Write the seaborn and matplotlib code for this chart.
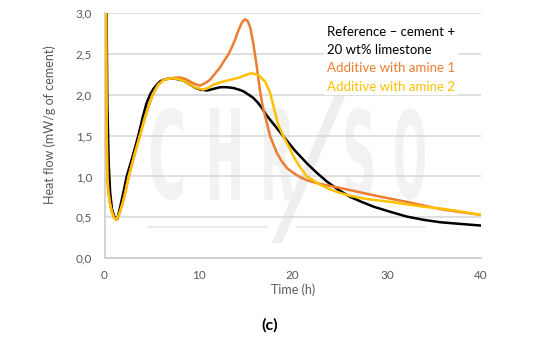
import numpy as np
import pandas as pd
import matplotlib
matplotlib.use("Agg")
import matplotlib.pyplot as plt
import seaborn as sns
from matplotlib.lines import Line2D
from matplotlib.textpath import TextPath
from matplotlib.patches import PathPatch, Polygon
from matplotlib.font_manager import FontProperties
from matplotlib.transforms import Affine2D, IdentityTransform

# ---------------- data ----------------
series_names = ["Reference – cement +\n20 wt% limestone",
                "Additive with amine 1",
                "Additive with amine 2"]
series_colors = ["#000000", "#ED7D31", "#FFC000"]

ref_time = [0.2, 0.3, 0.45, 0.6, 0.8, 1.0, 1.2, 1.36, 1.65, 2.0, 2.36, 3.0, 3.6, 4.05, 4.48,
            4.84, 5.2, 5.55, 5.9, 6.25, 6.6, 6.96, 7.7, 8.4, 9.1, 9.7, 10.2, 10.9, 11.6,
            12.3, 13.0, 13.7, 14.3, 14.75, 15.3, 15.8, 16.3, 16.7, 17.2, 18.1, 19.0, 20.2,
            21.5, 22.5, 23.6, 24.8, 26.1, 27.3, 28.6, 30.3, 32.1, 33.9, 35.7, 37.8, 40.0]
ref_flow = [3.3, 1.9, 1.15, 0.8, 0.6, 0.52, 0.49, 0.48, 0.62, 0.80, 1.0, 1.25, 1.5, 1.72, 1.90,
            2.0, 2.07, 2.12, 2.16, 2.18, 2.19, 2.2, 2.19, 2.17, 2.12, 2.08, 2.06, 2.05, 2.07,
            2.09, 2.09, 2.08, 2.06, 2.04, 2.0, 1.96, 1.90, 1.84, 1.75, 1.62, 1.49, 1.32,
            1.16, 1.05, 0.94, 0.84, 0.75, 0.69, 0.63, 0.57, 0.51, 0.47, 0.44, 0.42, 0.40]

am1_time = [0.15, 0.2, 0.25, 0.3, 0.4, 0.58, 0.8, 1.0, 1.22, 1.5, 1.9, 2.2, 2.57, 3.2, 3.77,
            4.3, 4.7, 5.12, 5.7, 6.3, 7.1, 8.0, 8.6, 9.09, 9.6, 10.15, 10.7, 11.2, 11.7,
            12.27, 12.7, 13.16, 13.5, 13.87, 14.15, 14.4, 14.65, 14.93, 15.2, 15.46, 15.8,
            16.17, 16.5, 16.8, 17.1, 17.6, 18.3, 18.8, 19.4, 20.1, 20.8, 21.6, 22.5, 23.7,
            25.0, 26.8, 28.6, 30.3, 32.1, 33.9, 35.7, 37.8, 40.0]
am1_flow = [3.3, 2.2, 1.4, 1.0, 0.82, 0.67, 0.56, 0.5, 0.47, 0.52, 0.66, 0.8, 1.0, 1.27, 1.5,
            1.72, 1.86, 2.0, 2.12, 2.18, 2.2, 2.21, 2.19, 2.16, 2.13, 2.11, 2.14, 2.18, 2.25,
            2.33, 2.41, 2.49, 2.57, 2.67, 2.76, 2.83, 2.89, 2.92, 2.9, 2.83, 2.63,
            2.35, 2.06, 1.86, 1.72, 1.49, 1.29, 1.19, 1.10, 1.04, 0.99, 0.95, 0.92, 0.89,
            0.86, 0.815, 0.77, 0.73, 0.69, 0.645, 0.60, 0.565, 0.53]

am2_time = [0.15, 0.2, 0.25, 0.3, 0.4, 0.58, 0.8, 1.0, 1.22, 1.5, 1.9, 2.2, 2.57, 3.2, 3.77,
            4.3, 4.7, 5.12, 5.7, 6.3, 7.1, 7.8, 8.4, 9.09, 9.8, 10.5, 11.0, 11.56, 12.3,
            13.0, 13.7, 14.4, 15.0, 15.6, 16.35, 17.06, 17.6, 18.1, 18.5, 19.0, 19.6, 20.1,
            20.8, 21.5, 22.2, 22.9, 24.0, 25.0, 26.2, 27.5, 28.9, 30.3, 32.1, 33.9, 35.6,
            37.4, 40.0]
am2_flow = [3.3, 2.2, 1.4, 1.0, 0.82, 0.67, 0.56, 0.5, 0.47, 0.52, 0.66, 0.8, 1.0, 1.27, 1.5,
            1.72, 1.86, 2.0, 2.12, 2.18, 2.2, 2.19, 2.17, 2.12, 2.08, 2.06, 2.08, 2.12, 2.15,
            2.17, 2.19, 2.21, 2.24, 2.26, 2.24, 2.16, 2.02, 1.79, 1.62, 1.49, 1.36, 1.24,
            1.11, 1.0, 0.95, 0.90, 0.84, 0.80, 0.76, 0.73, 0.71, 0.69, 0.66, 0.63, 0.61,
            0.58, 0.53]

x_ticks = [0, 10, 20, 30, 40]
y_ticks = [0.0, 0.5, 1.0, 1.5, 2.0, 2.5, 3.0]
y_tick_labels = ["0,0", "0,5", "1,0", "1,5", "2,0", "2,5", "3,0"]
x_label = "Time (h)"
y_label = "Heat flow (mW/g of cement)"
panel_label = "(c)"
watermark_letters = ["C", "H", "R", "S", "O"]

df = pd.concat([
    pd.DataFrame({"Time": ref_time, "Flow": ref_flow, "Series": series_names[0]}),
    pd.DataFrame({"Time": am1_time, "Flow": am1_flow, "Series": series_names[1]}),
    pd.DataFrame({"Time": am2_time, "Flow": am2_flow, "Series": series_names[2]}),
], ignore_index=True)

# ---------------- style ----------------
sns.set_theme(style="white")
plt.rcParams["font.family"] = ["Lato", "DejaVu Sans"]

W, H = 540, 350
fig = plt.figure(figsize=(W / 100, H / 100), dpi=100)
ax = fig.add_axes([104.5 / W, 1 - 258.3 / H, (481 - 104.5) / W, (258.3 - 12.7) / H])

sns.lineplot(data=df, x="Time", y="Flow", hue="Series", hue_order=series_names,
             palette=series_colors, sort=False, estimator=None, linewidth=1.8,
             legend=False, ax=ax, zorder=3)
for ln in ax.get_lines():
    ln.set_solid_joinstyle("round")
    ln.set_solid_capstyle("round")

ax.set_xlim(0, 40)
ax.set_ylim(0, 3.0)
ax.set_xticks(x_ticks)
ax.set_xticklabels([str(t) for t in x_ticks])
ax.set_yticks(y_ticks)
ax.set_yticklabels(y_tick_labels)
ax.tick_params(axis="both", length=0, labelsize=8.5, colors="#595959")
ax.tick_params(axis="x", pad=8.5)
ax.tick_params(axis="y", pad=9)
ax.grid(axis="y", color="#d9d9d9", linewidth=1.2)
ax.grid(axis="x", visible=False)
ax.set_axisbelow(True)
for s in ["top", "right"]:
    ax.spines[s].set_visible(False)
for s in ["left", "bottom"]:
    ax.spines[s].set_color("#d0d0d0")
    ax.spines[s].set_linewidth(1.3)

ax.set_xlabel(x_label, fontsize=9, color="#595959", labelpad=2)
ax.set_ylabel(y_label, fontsize=9, color="#595959")
ax.yaxis.set_label_coords(-0.128, 0.545)

# ---------------- watermark ----------------
def img2disp(x, y):
    return x, H - y

wm_color = "#f2f2f2"
fp = FontProperties(family="DejaVu Sans", weight="bold")
boxes = [(148, 183), (206, 240), (260, 294), (342, 373), (393, 425)]
y_top, y_bot = 108, 200
for letter, (x0, x1) in zip(watermark_letters, boxes):
    tp = TextPath((0, 0), letter, size=100, prop=fp)
    v = tp.vertices
    ex0, ex1 = v[:, 0].min(), v[:, 0].max()
    ey0, ey1 = v[:, 1].min(), v[:, 1].max()
    sx = (x1 - x0) / (ex1 - ex0)
    sy = (y_bot - y_top) / (ey1 - ey0)
    tr = Affine2D().translate(-ex0, -ey0).scale(sx, sy).translate(x0, H - y_bot)
    patch = PathPatch(tr.transform_path(tp), facecolor=wm_color, edgecolor="none",
                      transform=IdentityTransform(), zorder=0.3, clip_on=False)
    ax.add_patch(patch)

slash = Polygon([img2disp(336, 92), img2disp(347, 92), img2disp(282, 243), img2disp(272, 243)],
                closed=True, facecolor="#eeeeee", edgecolor="none",
                transform=IdentityTransform(), zorder=0.35, clip_on=False)
ax.add_patch(slash)
for (xa, xb) in [(148, 267), (297, 425)]:
    ax.add_line(Line2D([xa, xb], [H - 226.7, H - 226.7], color="#ebebeb", linewidth=1.5,
                       transform=IdentityTransform(), zorder=0.35, clip_on=False))

# ---------------- legend ----------------
handles = [Line2D([], [], color=c, linewidth=0) for c in series_colors]
ax_w, ax_h = 481 - 104.5, 258.3 - 12.7
leg = ax.legend(handles, series_names, loc="upper left",
                bbox_to_anchor=((324.4 - 104.5) / ax_w, (258.3 - 23) / ax_h),
                frameon=True, facecolor="white", edgecolor="none", framealpha=1,
                handlelength=0, handletextpad=0, fontsize=9.5, labelspacing=0.5,
                borderpad=0.2, borderaxespad=0, labelcolor=series_colors, fancybox=False)
leg.set_zorder(4)
for t in leg.get_texts():
    t.set_linespacing(1.6)

fig.text(270 / W, 1 - 325 / H, panel_label, ha="center", va="center",
         fontsize=11.5, fontweight="bold", color="black")

fig.savefig("out.png", dpi=100, facecolor="white")
